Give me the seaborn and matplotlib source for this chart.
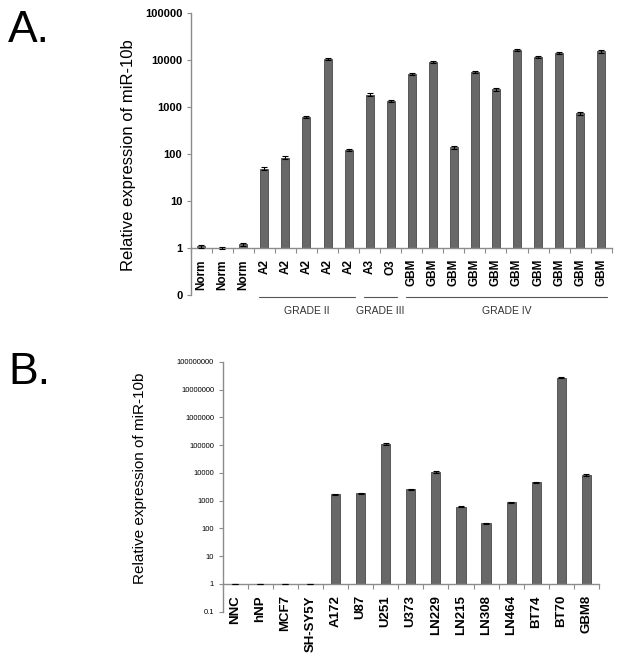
import numpy as np
import pandas as pd
import matplotlib
matplotlib.use("Agg")
import matplotlib.pyplot as plt
import seaborn as sns
from matplotlib.ticker import NullLocator, FixedLocator
from matplotlib.transforms import blended_transform_factory

# ---------------- Panel A data ----------------
a_labels = ["Norm", "Norm", "Norm", "A2", "A2", "A2", "A2", "A2", "A3", "O3",
            "GBM", "GBM", "GBM", "GBM", "GBM", "GBM", "GBM", "GBM", "GBM", "GBM"]
a_values = [1.1, 1.0, 1.2, 49, 84, 620, 10600, 122, 1830, 1360,
            5100, 8900, 139, 5550, 2380, 16500, 11600, 14100, 740, 15300]
a_errors = [0.08, 0.05, 0.1, 3, 5, 35, 700, 8, 120, 80,
            300, 450, 10, 300, 150, 900, 700, 800, 50, 900]
a_yticks = [0.1, 1, 10, 100, 1000, 10000, 100000]
a_yticklabels = ["0", "1", "10", "100", "1000", "10000", "100000"]
a_groups = ["GRADE II", "GRADE III", "GRADE IV"]
a_group_first = [3, 8, 10]
a_group_last = [7, 9, 19]

# ---------------- Panel B data ----------------
b_labels = ["NNC", "hNP", "MCF7", "SH-SY5Y", "A172", "U87", "U251", "U373",
            "LN229", "LN215", "LN308", "LN464", "BT74", "BT70", "GBM8"]
b_values = [1.0, 1.0, 1.0, 1.0, 1700, 1850, 111000, 2560,
            10800, 610, 155, 875, 4550, 27000000, 8450]
b_errors = [0.03, 0.03, 0.03, 0.03, 90, 100, 6000, 150,
            600, 35, 9, 45, 250, 1500000, 450]
b_yticks = [0.1, 1, 10, 100, 1000, 10000, 100000, 1000000, 10000000, 100000000]
b_yticklabels = ["0.1", "1", "10", "100", "1000", "10000", "100000",
                 "1000000", "10000000", "100000000"]

sns.set_theme(style="ticks")
plt.rcParams["font.family"] = ["Liberation Sans", "DejaVu Sans"]
plt.rcParams["text.color"] = "black"
plt.rcParams["xtick.color"] = "black"
plt.rcParams["ytick.color"] = "black"

BAR = "#686868"
EDGE = "#484848"
AXC = "#8c8c8c"

W, H = 625, 663
fig = plt.figure(figsize=(W / 100, H / 100), dpi=100)


def px_axes(left, top, right, bottom):
    return fig.add_axes([left / W, 1 - bottom / H, (right - left) / W, (bottom - top) / H])


def draw(ax, labels, values, errors, width, yticks, yticklabels,
         xfs, yfs, yweight):
    pos = list(range(len(values)))
    df = pd.DataFrame({"pos": pos, "value": values})
    sns.barplot(data=df, x="pos", y="value", ax=ax, color=BAR, width=width,
                edgecolor=EDGE, linewidth=0.6, errorbar=None, saturation=1)
    ax.set_yscale("log")
    # bars rise from the axis that crosses at 1
    for p in ax.patches:
        top = p.get_y() + p.get_height()
        p.set_y(1.0)
        p.set_height(top - 1.0)
    ax.errorbar(pos, values, yerr=errors, fmt="none", ecolor="black",
                elinewidth=0.8, capsize=2, capthick=0.8, zorder=3)
    ax.set_ylim(yticks[0], yticks[-1])
    ax.set_xlim(-0.5, len(values) - 0.5)
    ax.spines["top"].set_visible(False)
    ax.spines["right"].set_visible(False)
    ax.spines["bottom"].set_position(("data", 1))
    for s in ("left", "bottom"):
        ax.spines[s].set_color(AXC)
        ax.spines[s].set_linewidth(1.0)
    ax.yaxis.set_major_locator(FixedLocator(yticks))
    ax.yaxis.set_minor_locator(NullLocator())
    ax.set_yticks(yticks)
    ax.set_yticklabels(yticklabels)
    ax.set_xticks(pos)
    ax.set_xticklabels(labels)
    ax.set_xticks(np.arange(-0.5, len(values)), minor=True)
    ax.tick_params(axis="x", which="major", length=0, pad=8, bottom=True,
                   labelcolor="black")
    ax.tick_params(axis="x", which="minor", length=3.5, width=0.8,
                   color=AXC, direction="out", bottom=True)
    ax.tick_params(axis="y", which="major", length=3, width=0.8, color=AXC,
                   direction="out", pad=3, left=True, labelsize=yfs,
                   labelcolor="black")
    plt.setp(ax.get_xticklabels(), rotation=90, fontsize=xfs,
             fontweight="bold", va="top", ha="center")
    plt.setp(ax.get_yticklabels(), fontweight=yweight)
    ax.set_xlabel("")
    ax.set_ylabel("")
    ax.set_facecolor("white")


# Panel A
axA = px_axes(190.7, 13, 611.7, 295)
draw(axA, a_labels, a_values, a_errors, 0.38, a_yticks, a_yticklabels,
     8.5, 8, "bold")
tr = blended_transform_factory(axA.transData, axA.transAxes)
for name, f, l in zip(a_groups, a_group_first, a_group_last):
    x0, x1 = f - 0.25, l + 0.3
    axA.plot([x0, x1], [-0.008, -0.008], color="#555555", lw=0.8,
             transform=tr, clip_on=False)
    axA.text((x0 + x1) / 2, -0.057, name, transform=tr, ha="center",
             va="center", fontsize=7.5, color="#333333")

# Panel B
axB = px_axes(222.5, 362, 599, 611.7)
draw(axB, b_labels, b_values, b_errors, 0.37, b_yticks, b_yticklabels,
     9.5, 5.5, "normal")

# axis titles
fig.text(128 / W, 1 - 155 / H, "Relative expression of miR-10b", rotation=90,
         ha="center", va="center", fontsize=12, color="black")
fig.text(140 / W, 1 - 478 / H, "Relative expression of miR-10b", rotation=90,
         ha="center", va="center", fontsize=11, color="black")

# panel letters
fig.text(8 / W, 1 - 42 / H, "A.", fontsize=32, va="baseline", ha="left",
         color="black")
fig.text(8 / W, 1 - 384 / H, "B.", fontsize=32, va="baseline", ha="left",
         color="black")

fig.savefig("out.png", dpi=100, facecolor="white")
